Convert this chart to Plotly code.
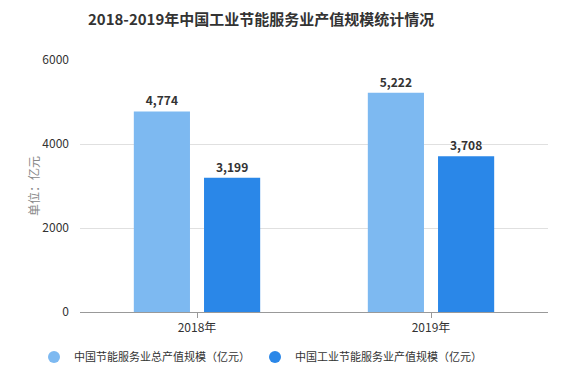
import plotly.graph_objects as go

categories = ["2018年", "2019年"]
total_values = [4774, 5222]
industrial_values = [3199, 3708]
series_names = ["中国节能服务业总产值规模（亿元）", "中国工业节能服务业产值规模（亿元）"]
y_ticks = [0, 2000, 4000, 6000]

FONT = "Noto Sans CJK SC"
colors = ["#7db9f1", "#2a87e8"]

fig = go.Figure()
for name, vals, c in zip(series_names, [total_values, industrial_values], colors):
    fig.add_trace(go.Bar(
        x=categories, y=vals, name=name, marker=dict(color=c, line=dict(width=0)),
        text=[f"{v:,}" for v in vals], textposition="outside",
        textfont=dict(family=FONT, size=12, color="#333333", weight="bold"),
        cliponaxis=False, showlegend=False,
    ))
# circular legend entries
for name, c in zip(series_names, colors):
    fig.add_trace(go.Scatter(
        x=[categories[0]], y=[None], mode="markers", name=name,
        marker=dict(color=c, size=12, symbol="circle"), showlegend=True, hoverinfo="skip",
    ))

fig.update_layout(
    width=564, height=380,
    margin=dict(l=80, r=16, t=60, b=68, autoexpand=False),
    paper_bgcolor="white", plot_bgcolor="white",
    barmode="group", bargap=0.40, bargroupgap=0.2,
    title=dict(text="<b>2018-2019年中国工业节能服务业产值规模统计情况</b>",
               x=0.463, xanchor="center", y=0.948, yanchor="middle",
               font=dict(family=FONT, size=15, color="#333333")),
    font=dict(family=FONT, size=12, color="#333333"),
    showlegend=True,
    legend=dict(orientation="h", x=34 / 564, xanchor="left", xref="container",
                y=1 - 357 / 380, yanchor="middle", yref="container",
                font=dict(family=FONT, size=11, color="#333333"),
                itemwidth=30, traceorder="normal"),
    xaxis=dict(showline=True, linecolor="#999999", linewidth=1, ticks="outside",
               ticklen=5, tickcolor="#999999", tickfont=dict(family=FONT, size=12, color="#333333"),
               showgrid=False),
    yaxis=dict(range=[0, 6000], tickvals=y_ticks, showgrid=True, gridcolor="#e0e0e0",
               zeroline=False, showline=False, ticklabelstandoff=10,
               tickfont=dict(family=FONT, size=12, color="#333333"),
               title=dict(text="单位：亿元", font=dict(family=FONT, size=12, color="#888888"), standoff=0)),
)
fig.write_html("out.html", config={"displayModeBar": False},
               post_script="document.body.style.margin='0';")
